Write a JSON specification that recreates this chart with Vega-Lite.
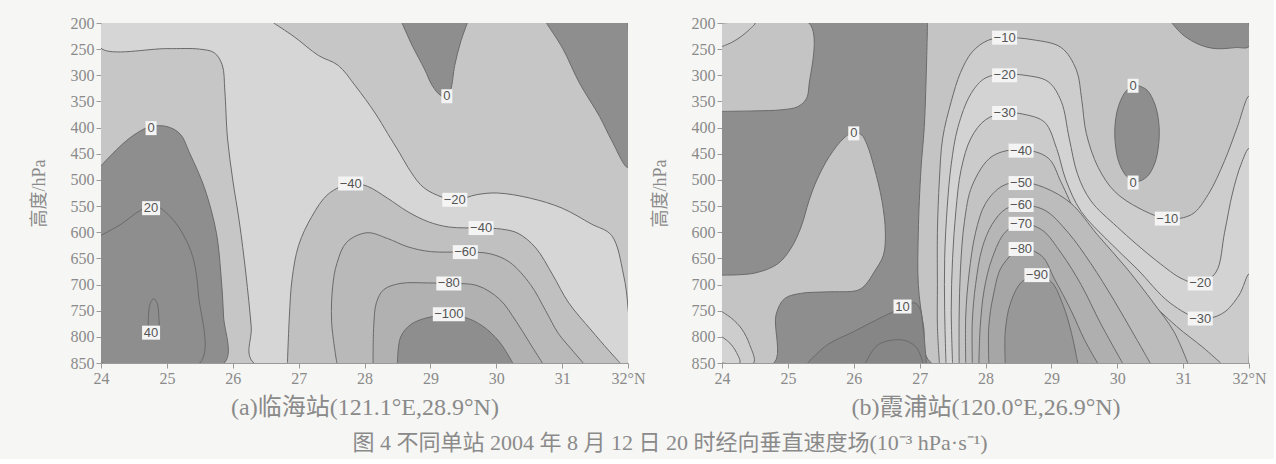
{
"$schema": "https://vega.github.io/schema/vega-lite/v6.json",
"background": "#f6f6f4",
"padding": {"left": 30, "top": 15, "right": 8, "bottom": 5},
"config": {
  "view": {"stroke": null},
  "axis": {"labelFont": "Liberation Serif", "labelFontSize": 16, "labelColor": "#8a8a8a", "tickColor": "#9a9a9a", "domainColor": "#9a9a9a", "tickSize": 5, "labelPadding": 2, "labelOverlap": false, "titleFont": "Liberation Serif, Noto Sans CJK SC", "titleFontSize": 18, "titleFontWeight": "normal", "titleColor": "#8a8a8a", "grid": false}
},
"title": {"text": "图 4 不同单站 2004 年 8 月 12 日 20 时经向垂直速度场(10⁻³ hPa·s⁻¹)", "orient": "bottom", "anchor": "middle", "font": "Liberation Serif, Noto Sans CJK SC", "fontSize": 22, "fontWeight": "normal", "color": "#8a8a8a", "offset": 14, "dx": 22},
"datasets": {
"polyA": [
{"poly":"a00","band":"L0","lat":24,"hPa":200},{"poly":"a00","band":"L0","lat":32,"hPa":200},{"poly":"a00","band":"L0","lat":32,"hPa":850},{"poly":"a00","band":"L0","lat":24,"hPa":850},
{"poly":"a01","band":"L1","lat":24,"hPa":200},{"poly":"a01","band":"L1","lat":24,"hPa":248},{"poly":"a01","band":"L1","lat":25,"hPa":249},{"poly":"a01","band":"L1","lat":25.5,"hPa":250},{"poly":"a01","band":"L1","lat":25.72,"hPa":257},{"poly":"a01","band":"L1","lat":25.84,"hPa":280},{"poly":"a01","band":"L1","lat":25.88,"hPa":330},{"poly":"a01","band":"L1","lat":25.92,"hPa":420},{"poly":"a01","band":"L1","lat":26,"hPa":500},{"poly":"a01","band":"L1","lat":26.1,"hPa":580},{"poly":"a01","band":"L1","lat":26.2,"hPa":680},{"poly":"a01","band":"L1","lat":26.28,"hPa":780},{"poly":"a01","band":"L1","lat":26.32,"hPa":850},{"poly":"a01","band":"L1","lat":32,"hPa":850},{"poly":"a01","band":"L1","lat":32,"hPa":745},{"poly":"a01","band":"L1","lat":31.93,"hPa":680},{"poly":"a01","band":"L1","lat":31.75,"hPa":606},{"poly":"a01","band":"L1","lat":31.44,"hPa":584},{"poly":"a01","band":"L1","lat":31,"hPa":554},{"poly":"a01","band":"L1","lat":30.52,"hPa":535},{"poly":"a01","band":"L1","lat":30.02,"hPa":525},{"poly":"a01","band":"L1","lat":29.71,"hPa":528},{"poly":"a01","band":"L1","lat":29.37,"hPa":538},{"poly":"a01","band":"L1","lat":29.03,"hPa":525},{"poly":"a01","band":"L1","lat":28.85,"hPa":509},{"poly":"a01","band":"L1","lat":28.66,"hPa":476},{"poly":"a01","band":"L1","lat":28.54,"hPa":450},{"poly":"a01","band":"L1","lat":28.35,"hPa":411},{"poly":"a01","band":"L1","lat":28.16,"hPa":372},{"poly":"a01","band":"L1","lat":27.86,"hPa":320},{"poly":"a01","band":"L1","lat":27.6,"hPa":281},{"poly":"a01","band":"L1","lat":27.3,"hPa":262},{"poly":"a01","band":"L1","lat":26.93,"hPa":226},{"poly":"a01","band":"L1","lat":26.62,"hPa":200},
{"poly":"a02","band":"M0","lat":26.83,"hPa":850},{"poly":"a02","band":"M0","lat":26.86,"hPa":760},{"poly":"a02","band":"M0","lat":26.9,"hPa":690},{"poly":"a02","band":"M0","lat":27,"hPa":625},{"poly":"a02","band":"M0","lat":27.2,"hPa":570},{"poly":"a02","band":"M0","lat":27.45,"hPa":527},{"poly":"a02","band":"M0","lat":27.79,"hPa":507},{"poly":"a02","band":"M0","lat":28.04,"hPa":512},{"poly":"a02","band":"M0","lat":28.35,"hPa":535},{"poly":"a02","band":"M0","lat":28.66,"hPa":561},{"poly":"a02","band":"M0","lat":28.97,"hPa":580},{"poly":"a02","band":"M0","lat":29.28,"hPa":590},{"poly":"a02","band":"M0","lat":29.77,"hPa":592},{"poly":"a02","band":"M0","lat":30.08,"hPa":594},{"poly":"a02","band":"M0","lat":30.33,"hPa":602},{"poly":"a02","band":"M0","lat":30.6,"hPa":630},{"poly":"a02","band":"M0","lat":30.85,"hPa":680},{"poly":"a02","band":"M0","lat":31.1,"hPa":735},{"poly":"a02","band":"M0","lat":31.44,"hPa":787},{"poly":"a02","band":"M0","lat":31.7,"hPa":825},{"poly":"a02","band":"M0","lat":31.88,"hPa":850},
{"poly":"a03","band":"M1","lat":27.58,"hPa":850},{"poly":"a03","band":"M1","lat":27.5,"hPa":770},{"poly":"a03","band":"M1","lat":27.52,"hPa":700},{"poly":"a03","band":"M1","lat":27.58,"hPa":660},{"poly":"a03","band":"M1","lat":27.73,"hPa":619},{"poly":"a03","band":"M1","lat":28.04,"hPa":601},{"poly":"a03","band":"M1","lat":28.35,"hPa":612},{"poly":"a03","band":"M1","lat":28.66,"hPa":628},{"poly":"a03","band":"M1","lat":29,"hPa":637},{"poly":"a03","band":"M1","lat":29.53,"hPa":638},{"poly":"a03","band":"M1","lat":29.9,"hPa":641},{"poly":"a03","band":"M1","lat":30.2,"hPa":657},{"poly":"a03","band":"M1","lat":30.52,"hPa":700},{"poly":"a03","band":"M1","lat":30.75,"hPa":750},{"poly":"a03","band":"M1","lat":30.94,"hPa":793},{"poly":"a03","band":"M1","lat":31.15,"hPa":825},{"poly":"a03","band":"M1","lat":31.32,"hPa":850},
{"poly":"a04","band":"M2","lat":28.13,"hPa":850},{"poly":"a04","band":"M2","lat":28.14,"hPa":780},{"poly":"a04","band":"M2","lat":28.18,"hPa":735},{"poly":"a04","band":"M2","lat":28.29,"hPa":710},{"poly":"a04","band":"M2","lat":28.54,"hPa":698},{"poly":"a04","band":"M2","lat":28.97,"hPa":697},{"poly":"a04","band":"M2","lat":29.28,"hPa":698},{"poly":"a04","band":"M2","lat":29.71,"hPa":702},{"poly":"a04","band":"M2","lat":30.05,"hPa":728},{"poly":"a04","band":"M2","lat":30.3,"hPa":770},{"poly":"a04","band":"M2","lat":30.5,"hPa":810},{"poly":"a04","band":"M2","lat":30.7,"hPa":850},
{"poly":"a05","band":"D","lat":28.5,"hPa":850},{"poly":"a05","band":"D","lat":28.55,"hPa":800},{"poly":"a05","band":"D","lat":28.72,"hPa":775},{"poly":"a05","band":"D","lat":29.1,"hPa":760},{"poly":"a05","band":"D","lat":29.5,"hPa":762},{"poly":"a05","band":"D","lat":29.8,"hPa":780},{"poly":"a05","band":"D","lat":30.05,"hPa":810},{"poly":"a05","band":"D","lat":30.25,"hPa":850},
{"poly":"a06","band":"D","lat":24,"hPa":473},{"poly":"a06","band":"D","lat":24.33,"hPa":431},{"poly":"a06","band":"D","lat":24.55,"hPa":410},{"poly":"a06","band":"D","lat":24.75,"hPa":398},{"poly":"a06","band":"D","lat":25,"hPa":398},{"poly":"a06","band":"D","lat":25.2,"hPa":412},{"poly":"a06","band":"D","lat":25.35,"hPa":450},{"poly":"a06","band":"D","lat":25.57,"hPa":515},{"poly":"a06","band":"D","lat":25.75,"hPa":600},{"poly":"a06","band":"D","lat":25.82,"hPa":680},{"poly":"a06","band":"D","lat":25.86,"hPa":760},{"poly":"a06","band":"D","lat":25.87,"hPa":850},{"poly":"a06","band":"D","lat":24,"hPa":850},
{"poly":"a07","band":"D","lat":24,"hPa":606},{"poly":"a07","band":"D","lat":24.3,"hPa":585},{"poly":"a07","band":"D","lat":24.6,"hPa":558},{"poly":"a07","band":"D","lat":24.8,"hPa":548},{"poly":"a07","band":"D","lat":25.05,"hPa":570},{"poly":"a07","band":"D","lat":25.25,"hPa":605},{"poly":"a07","band":"D","lat":25.4,"hPa":650},{"poly":"a07","band":"D","lat":25.48,"hPa":720},{"poly":"a07","band":"D","lat":25.5,"hPa":850},{"poly":"a07","band":"D","lat":24,"hPa":850},
{"poly":"a08","band":"D","lat":24.72,"hPa":800},{"poly":"a08","band":"D","lat":24.72,"hPa":760},{"poly":"a08","band":"D","lat":24.75,"hPa":735},{"poly":"a08","band":"D","lat":24.8,"hPa":727},{"poly":"a08","band":"D","lat":24.85,"hPa":735},{"poly":"a08","band":"D","lat":24.88,"hPa":765},{"poly":"a08","band":"D","lat":24.88,"hPa":800},
{"poly":"a09","band":"D","lat":28.57,"hPa":200},{"poly":"a09","band":"D","lat":28.72,"hPa":242},{"poly":"a09","band":"D","lat":28.91,"hPa":288},{"poly":"a09","band":"D","lat":29.03,"hPa":320},{"poly":"a09","band":"D","lat":29.15,"hPa":338},{"poly":"a09","band":"D","lat":29.25,"hPa":342},{"poly":"a09","band":"D","lat":29.31,"hPa":327},{"poly":"a09","band":"D","lat":29.37,"hPa":281},{"poly":"a09","band":"D","lat":29.46,"hPa":236},{"poly":"a09","band":"D","lat":29.56,"hPa":200},
{"poly":"a10","band":"D","lat":30.76,"hPa":200},{"poly":"a10","band":"D","lat":31.01,"hPa":249},{"poly":"a10","band":"D","lat":31.26,"hPa":314},{"poly":"a10","band":"D","lat":31.57,"hPa":379},{"poly":"a10","band":"D","lat":31.75,"hPa":424},{"poly":"a10","band":"D","lat":32,"hPa":476},{"poly":"a10","band":"D","lat":32,"hPa":200}
],
"polyB": [
{"poly":"b00","band":"D","lat":24,"hPa":200},{"poly":"b00","band":"D","lat":32,"hPa":200},{"poly":"b00","band":"D","lat":32,"hPa":850},{"poly":"b00","band":"D","lat":24,"hPa":850},
{"poly":"b01","band":"b0","lat":27.12,"hPa":200},{"poly":"b01","band":"b0","lat":27.1,"hPa":300},{"poly":"b01","band":"b0","lat":27.07,"hPa":400},{"poly":"b01","band":"b0","lat":27.02,"hPa":480},{"poly":"b01","band":"b0","lat":26.98,"hPa":600},{"poly":"b01","band":"b0","lat":26.98,"hPa":700},{"poly":"b01","band":"b0","lat":27.06,"hPa":780},{"poly":"b01","band":"b0","lat":27.18,"hPa":850},{"poly":"b01","band":"b0","lat":32,"hPa":850},{"poly":"b01","band":"b0","lat":32,"hPa":200},
{"poly":"b02","band":"D","lat":30.83,"hPa":200},{"poly":"b02","band":"D","lat":31,"hPa":223},{"poly":"b02","band":"D","lat":31.26,"hPa":242},{"poly":"b02","band":"D","lat":31.5,"hPa":249},{"poly":"b02","band":"D","lat":31.8,"hPa":247},{"poly":"b02","band":"D","lat":32,"hPa":245},{"poly":"b02","band":"D","lat":32,"hPa":200},
{"poly":"b03","band":"D","lat":30.3,"hPa":319},{"poly":"b03","band":"D","lat":30.45,"hPa":328},{"poly":"b03","band":"D","lat":30.57,"hPa":355},{"poly":"b03","band":"D","lat":30.63,"hPa":390},{"poly":"b03","band":"D","lat":30.63,"hPa":430},{"poly":"b03","band":"D","lat":30.57,"hPa":468},{"poly":"b03","band":"D","lat":30.45,"hPa":494},{"poly":"b03","band":"D","lat":30.3,"hPa":503},{"poly":"b03","band":"D","lat":30.15,"hPa":494},{"poly":"b03","band":"D","lat":30.03,"hPa":468},{"poly":"b03","band":"D","lat":29.97,"hPa":430},{"poly":"b03","band":"D","lat":29.97,"hPa":390},{"poly":"b03","band":"D","lat":30.03,"hPa":355},{"poly":"b03","band":"D","lat":30.15,"hPa":328},{"poly":"b03","band":"D","lat":30.3,"hPa":319},
{"poly":"b04","band":"b0","lat":24,"hPa":200},{"poly":"b04","band":"b0","lat":25.32,"hPa":200},{"poly":"b04","band":"b0","lat":25.32,"hPa":320},{"poly":"b04","band":"b0","lat":25.28,"hPa":345},{"poly":"b04","band":"b0","lat":25.15,"hPa":360},{"poly":"b04","band":"b0","lat":24.9,"hPa":366},{"poly":"b04","band":"b0","lat":24.5,"hPa":368},{"poly":"b04","band":"b0","lat":24,"hPa":369},
{"poly":"b05","band":"b1","lat":24,"hPa":200},{"poly":"b05","band":"b1","lat":24.5,"hPa":200},{"poly":"b05","band":"b1","lat":24.42,"hPa":212},{"poly":"b05","band":"b1","lat":24.3,"hPa":225},{"poly":"b05","band":"b1","lat":24.15,"hPa":237},{"poly":"b05","band":"b1","lat":24,"hPa":245},
{"poly":"b06","band":"b0","lat":24,"hPa":682},{"poly":"b06","band":"b0","lat":24.5,"hPa":678},{"poly":"b06","band":"b0","lat":24.85,"hPa":660},{"poly":"b06","band":"b0","lat":25.05,"hPa":630},{"poly":"b06","band":"b0","lat":25.2,"hPa":590},{"poly":"b06","band":"b0","lat":25.32,"hPa":540},{"poly":"b06","band":"b0","lat":25.44,"hPa":500},{"poly":"b06","band":"b0","lat":25.63,"hPa":455},{"poly":"b06","band":"b0","lat":25.85,"hPa":420},{"poly":"b06","band":"b0","lat":26,"hPa":408},{"poly":"b06","band":"b0","lat":26.12,"hPa":414},{"poly":"b06","band":"b0","lat":26.2,"hPa":432},{"poly":"b06","band":"b0","lat":26.31,"hPa":476},{"poly":"b06","band":"b0","lat":26.43,"hPa":541},{"poly":"b06","band":"b0","lat":26.48,"hPa":600},{"poly":"b06","band":"b0","lat":26.45,"hPa":644},{"poly":"b06","band":"b0","lat":26.31,"hPa":676},{"poly":"b06","band":"b0","lat":26.18,"hPa":700},{"poly":"b06","band":"b0","lat":26.06,"hPa":711},{"poly":"b06","band":"b0","lat":25.6,"hPa":714},{"poly":"b06","band":"b0","lat":25.19,"hPa":717},{"poly":"b06","band":"b0","lat":24.95,"hPa":727},{"poly":"b06","band":"b0","lat":24.82,"hPa":758},{"poly":"b06","band":"b0","lat":24.79,"hPa":850},{"poly":"b06","band":"b0","lat":24,"hPa":850},
{"poly":"b07","band":"b1","lat":24,"hPa":752},{"poly":"b07","band":"b1","lat":24.15,"hPa":765},{"poly":"b07","band":"b1","lat":24.3,"hPa":785},{"poly":"b07","band":"b1","lat":24.42,"hPa":815},{"poly":"b07","band":"b1","lat":24.48,"hPa":850},{"poly":"b07","band":"b1","lat":24,"hPa":850},
{"poly":"b08","band":"b2","lat":24,"hPa":800},{"poly":"b08","band":"b2","lat":24.12,"hPa":812},{"poly":"b08","band":"b2","lat":24.22,"hPa":830},{"poly":"b08","band":"b2","lat":24.27,"hPa":850},{"poly":"b08","band":"b2","lat":24,"hPa":850},
{"poly":"b09","band":"D2","lat":25.3,"hPa":850},{"poly":"b09","band":"D2","lat":25.6,"hPa":815},{"poly":"b09","band":"D2","lat":26,"hPa":790},{"poly":"b09","band":"D2","lat":26.4,"hPa":764},{"poly":"b09","band":"D2","lat":26.74,"hPa":744},{"poly":"b09","band":"D2","lat":26.92,"hPa":735},{"poly":"b09","band":"D2","lat":27.0,"hPa":745},{"poly":"b09","band":"D2","lat":27.06,"hPa":790},{"poly":"b09","band":"D2","lat":27.1,"hPa":850},
{"poly":"b10","band":"D2","lat":26.18,"hPa":850},{"poly":"b10","band":"D2","lat":26.37,"hPa":815},{"poly":"b10","band":"D2","lat":26.74,"hPa":806},{"poly":"b10","band":"D2","lat":26.95,"hPa":820},{"poly":"b10","band":"D2","lat":27.05,"hPa":850},
{"poly":"b11","band":"b1","lat":27.3,"hPa":850},{"poly":"b11","band":"b1","lat":27.27,"hPa":780},{"poly":"b11","band":"b1","lat":27.27,"hPa":700},{"poly":"b11","band":"b1","lat":27.27,"hPa":600},{"poly":"b11","band":"b1","lat":27.3,"hPa":500},{"poly":"b11","band":"b1","lat":27.35,"hPa":420},{"poly":"b11","band":"b1","lat":27.48,"hPa":350},{"poly":"b11","band":"b1","lat":27.62,"hPa":295},{"poly":"b11","band":"b1","lat":27.8,"hPa":255},{"poly":"b11","band":"b1","lat":28.04,"hPa":233},{"poly":"b11","band":"b1","lat":28.29,"hPa":228},{"poly":"b11","band":"b1","lat":28.72,"hPa":232},{"poly":"b11","band":"b1","lat":29.15,"hPa":247},{"poly":"b11","band":"b1","lat":29.38,"hPa":290},{"poly":"b11","band":"b1","lat":29.46,"hPa":346},{"poly":"b11","band":"b1","lat":29.53,"hPa":411},{"poly":"b11","band":"b1","lat":29.71,"hPa":476},{"poly":"b11","band":"b1","lat":29.96,"hPa":522},{"poly":"b11","band":"b1","lat":30.33,"hPa":554},{"poly":"b11","band":"b1","lat":30.76,"hPa":574},{"poly":"b11","band":"b1","lat":31.13,"hPa":566},{"poly":"b11","band":"b1","lat":31.38,"hPa":528},{"poly":"b11","band":"b1","lat":31.63,"hPa":463},{"poly":"b11","band":"b1","lat":31.82,"hPa":400},{"poly":"b11","band":"b1","lat":32,"hPa":340},{"poly":"b11","band":"b1","lat":32,"hPa":850},
{"poly":"b12","band":"b2","lat":27.4,"hPa":850},{"poly":"b12","band":"b2","lat":27.38,"hPa":750},{"poly":"b12","band":"b2","lat":27.38,"hPa":650},{"poly":"b12","band":"b2","lat":27.42,"hPa":550},{"poly":"b12","band":"b2","lat":27.48,"hPa":470},{"poly":"b12","band":"b2","lat":27.58,"hPa":400},{"poly":"b12","band":"b2","lat":27.78,"hPa":335},{"poly":"b12","band":"b2","lat":28,"hPa":305},{"poly":"b12","band":"b2","lat":28.29,"hPa":298},{"poly":"b12","band":"b2","lat":28.6,"hPa":300},{"poly":"b12","band":"b2","lat":28.95,"hPa":312},{"poly":"b12","band":"b2","lat":29.15,"hPa":350},{"poly":"b12","band":"b2","lat":29.27,"hPa":420},{"poly":"b12","band":"b2","lat":29.4,"hPa":490},{"poly":"b12","band":"b2","lat":29.6,"hPa":540},{"poly":"b12","band":"b2","lat":30,"hPa":590},{"poly":"b12","band":"b2","lat":30.6,"hPa":655},{"poly":"b12","band":"b2","lat":31,"hPa":690},{"poly":"b12","band":"b2","lat":31.26,"hPa":698},{"poly":"b12","band":"b2","lat":31.5,"hPa":676},{"poly":"b12","band":"b2","lat":31.63,"hPa":600},{"poly":"b12","band":"b2","lat":31.75,"hPa":525},{"poly":"b12","band":"b2","lat":31.88,"hPa":470},{"poly":"b12","band":"b2","lat":32,"hPa":440},{"poly":"b12","band":"b2","lat":32,"hPa":850},
{"poly":"b13","band":"b3","lat":27.5,"hPa":850},{"poly":"b13","band":"b3","lat":27.48,"hPa":750},{"poly":"b13","band":"b3","lat":27.5,"hPa":650},{"poly":"b13","band":"b3","lat":27.55,"hPa":560},{"poly":"b13","band":"b3","lat":27.63,"hPa":480},{"poly":"b13","band":"b3","lat":27.78,"hPa":420},{"poly":"b13","band":"b3","lat":28,"hPa":385},{"poly":"b13","band":"b3","lat":28.29,"hPa":372},{"poly":"b13","band":"b3","lat":28.6,"hPa":375},{"poly":"b13","band":"b3","lat":28.9,"hPa":390},{"poly":"b13","band":"b3","lat":29.08,"hPa":440},{"poly":"b13","band":"b3","lat":29.22,"hPa":500},{"poly":"b13","band":"b3","lat":29.45,"hPa":560},{"poly":"b13","band":"b3","lat":29.85,"hPa":615},{"poly":"b13","band":"b3","lat":30.3,"hPa":670},{"poly":"b13","band":"b3","lat":30.8,"hPa":735},{"poly":"b13","band":"b3","lat":31.26,"hPa":765},{"poly":"b13","band":"b3","lat":31.6,"hPa":755},{"poly":"b13","band":"b3","lat":31.85,"hPa":720},{"poly":"b13","band":"b3","lat":32,"hPa":680},{"poly":"b13","band":"b3","lat":32,"hPa":850},
{"poly":"b14","band":"b4","lat":27.6,"hPa":850},{"poly":"b14","band":"b4","lat":27.6,"hPa":760},{"poly":"b14","band":"b4","lat":27.62,"hPa":670},{"poly":"b14","band":"b4","lat":27.68,"hPa":580},{"poly":"b14","band":"b4","lat":27.8,"hPa":510},{"poly":"b14","band":"b4","lat":28.1,"hPa":455},{"poly":"b14","band":"b4","lat":28.54,"hPa":442},{"poly":"b14","band":"b4","lat":28.95,"hPa":458},{"poly":"b14","band":"b4","lat":29.15,"hPa":505},{"poly":"b14","band":"b4","lat":29.4,"hPa":570},{"poly":"b14","band":"b4","lat":29.8,"hPa":640},{"poly":"b14","band":"b4","lat":30.4,"hPa":720},{"poly":"b14","band":"b4","lat":30.9,"hPa":780},{"poly":"b14","band":"b4","lat":31.3,"hPa":820},{"poly":"b14","band":"b4","lat":31.57,"hPa":850},
{"poly":"b15","band":"b5","lat":27.7,"hPa":850},{"poly":"b15","band":"b5","lat":27.7,"hPa":760},{"poly":"b15","band":"b5","lat":27.75,"hPa":680},{"poly":"b15","band":"b5","lat":27.85,"hPa":600},{"poly":"b15","band":"b5","lat":28,"hPa":545},{"poly":"b15","band":"b5","lat":28.25,"hPa":512},{"poly":"b15","band":"b5","lat":28.54,"hPa":504},{"poly":"b15","band":"b5","lat":28.9,"hPa":515},{"poly":"b15","band":"b5","lat":29.3,"hPa":545},{"poly":"b15","band":"b5","lat":29.7,"hPa":605},{"poly":"b15","band":"b5","lat":30.15,"hPa":670},{"poly":"b15","band":"b5","lat":30.55,"hPa":735},{"poly":"b15","band":"b5","lat":30.86,"hPa":790},{"poly":"b15","band":"b5","lat":31.07,"hPa":850},
{"poly":"b16","band":"b6","lat":27.8,"hPa":850},{"poly":"b16","band":"b6","lat":27.8,"hPa":770},{"poly":"b16","band":"b6","lat":27.85,"hPa":700},{"poly":"b16","band":"b6","lat":27.95,"hPa":630},{"poly":"b16","band":"b6","lat":28.1,"hPa":585},{"poly":"b16","band":"b6","lat":28.3,"hPa":556},{"poly":"b16","band":"b6","lat":28.54,"hPa":548},{"poly":"b16","band":"b6","lat":28.9,"hPa":558},{"poly":"b16","band":"b6","lat":29.25,"hPa":600},{"poly":"b16","band":"b6","lat":29.6,"hPa":660},{"poly":"b16","band":"b6","lat":29.95,"hPa":730},{"poly":"b16","band":"b6","lat":30.25,"hPa":795},{"poly":"b16","band":"b6","lat":30.5,"hPa":850},
{"poly":"b17","band":"b7","lat":27.9,"hPa":850},{"poly":"b17","band":"b7","lat":27.92,"hPa":780},{"poly":"b17","band":"b7","lat":27.98,"hPa":710},{"poly":"b17","band":"b7","lat":28.1,"hPa":650},{"poly":"b17","band":"b7","lat":28.3,"hPa":600},{"poly":"b17","band":"b7","lat":28.54,"hPa":584},{"poly":"b17","band":"b7","lat":28.85,"hPa":595},{"poly":"b17","band":"b7","lat":29.15,"hPa":640},{"poly":"b17","band":"b7","lat":29.45,"hPa":700},{"poly":"b17","band":"b7","lat":29.75,"hPa":775},{"poly":"b17","band":"b7","lat":30.08,"hPa":850},
{"poly":"b18","band":"b8","lat":28.05,"hPa":850},{"poly":"b18","band":"b8","lat":28.05,"hPa":780},{"poly":"b18","band":"b8","lat":28.12,"hPa":720},{"poly":"b18","band":"b8","lat":28.25,"hPa":665},{"poly":"b18","band":"b8","lat":28.54,"hPa":632},{"poly":"b18","band":"b8","lat":28.85,"hPa":645},{"poly":"b18","band":"b8","lat":29.05,"hPa":690},{"poly":"b18","band":"b8","lat":29.3,"hPa":750},{"poly":"b18","band":"b8","lat":29.5,"hPa":805},{"poly":"b18","band":"b8","lat":29.7,"hPa":850},
{"poly":"b19","band":"b9","lat":28.3,"hPa":850},{"poly":"b19","band":"b9","lat":28.3,"hPa":790},{"poly":"b19","band":"b9","lat":28.38,"hPa":735},{"poly":"b19","band":"b9","lat":28.55,"hPa":695},{"poly":"b19","band":"b9","lat":28.78,"hPa":682},{"poly":"b19","band":"b9","lat":29,"hPa":695},{"poly":"b19","band":"b9","lat":29.18,"hPa":740},{"poly":"b19","band":"b9","lat":29.3,"hPa":790},{"poly":"b19","band":"b9","lat":29.4,"hPa":850}
],
"labA": [
{"t":"0","lat":24.76,"hPa":401},{"t":"20","lat":24.76,"hPa":554},{"t":"40","lat":24.76,"hPa":792},{"t":"0","lat":29.25,"hPa":340},{"t":"−40","lat":27.79,"hPa":507},{"t":"−20","lat":29.37,"hPa":538},{"t":"−40","lat":29.77,"hPa":592},{"t":"−60","lat":29.53,"hPa":638},{"t":"−80","lat":29.28,"hPa":698},{"t":"−100","lat":29.28,"hPa":757}
],
"labB": [
{"t":"−10","lat":28.29,"hPa":228},{"t":"−20","lat":28.29,"hPa":300},{"t":"−30","lat":28.29,"hPa":372},{"t":"−40","lat":28.54,"hPa":444},{"t":"−50","lat":28.54,"hPa":506},{"t":"−60","lat":28.54,"hPa":548},{"t":"−70","lat":28.54,"hPa":584},{"t":"−80","lat":28.54,"hPa":632},{"t":"−90","lat":28.78,"hPa":682},{"t":"10","lat":26.74,"hPa":742},{"t":"0","lat":26.0,"hPa":411},{"t":"0","lat":30.24,"hPa":320},{"t":"0","lat":30.24,"hPa":505},{"t":"−10","lat":30.76,"hPa":574},{"t":"−20","lat":31.26,"hPa":698},{"t":"−30","lat":31.26,"hPa":765}
]
},
"spacing": 6,
"hconcat": [
{
 "width": 527, "height": 340,
 "layer": [
  {"data": {"name": "polyA"},
   "mark": {"type": "line", "interpolate": "catmull-rom", "clip": true, "stroke": "#6a6a6a", "strokeWidth": 1},
   "encoding": {
    "x": {"field": "lat", "type": "quantitative", "scale": {"domain": [24, 32], "nice": false, "zero": false},
          "axis": {"values": [24,25,26,27,28,29,30,31,32], "format": "d", "labelFlush": false, "labelOverlap": false, "labelExpr": "datum.value == 32 ? '32°N' : datum.label", "title": "(a)临海站(121.1°E,28.9°N)", "titlePadding": 9, "titleFontSize": 24}},
    "y": {"field": "hPa", "type": "quantitative", "scale": {"domain": [200, 850], "reverse": true, "nice": false, "zero": false},
          "axis": {"values": [200,250,300,350,400,450,500,550,600,650,700,750,800,850], "tickCount": 14, "format": "d", "labelOverlap": false, "labelSeparation": 0, "title": "高度/hPa", "titlePadding": 22, "labelFlush": false}},
    "detail": {"field": "poly", "type": "nominal"},
    "fill": {"field": "band", "type": "nominal", "legend": null,
             "scale": {"domain": ["D","D2","L0","L1","M0","M1","M2","b0","b1","b2","b3","b4","b5","b6","b7","b8","b9"],
                       "range": ["#8e8e8e","#868686","#c6c6c6","#d6d6d6","#c0c0c0","#b9b9b9","#b1b1b1","#c4c4c4","#cdcdcd","#d3d3d3","#cbcbcb","#c3c3c3","#bcbcbc","#b6b6b6","#afafaf","#a6a6a6","#989898"]}},
    "order": {"value": null}
   }},
  {"data": {"name": "labA"}, "transform": [{"filter": "length(datum.t) == 1"}],
   "mark": {"type": "rect", "width": 11, "height": 14, "fill": "#f4f4f4"},
   "encoding": {"x": {"field": "lat", "type": "quantitative"}, "y": {"field": "hPa", "type": "quantitative"}}},
  {"data": {"name": "labA"}, "transform": [{"filter": "length(datum.t) == 2"}],
   "mark": {"type": "rect", "width": 18, "height": 14, "fill": "#f4f4f4"},
   "encoding": {"x": {"field": "lat", "type": "quantitative"}, "y": {"field": "hPa", "type": "quantitative"}}},
  {"data": {"name": "labA"}, "transform": [{"filter": "length(datum.t) == 3"}],
   "mark": {"type": "rect", "width": 25, "height": 14, "fill": "#f4f4f4"},
   "encoding": {"x": {"field": "lat", "type": "quantitative"}, "y": {"field": "hPa", "type": "quantitative"}}},
  {"data": {"name": "labA"}, "transform": [{"filter": "length(datum.t) == 4"}],
   "mark": {"type": "rect", "width": 32, "height": 14, "fill": "#f4f4f4"},
   "encoding": {"x": {"field": "lat", "type": "quantitative"}, "y": {"field": "hPa", "type": "quantitative"}}},
  {"data": {"name": "labA"},
   "mark": {"type": "text", "font": "Liberation Sans", "fontSize": 13, "fill": "#555555", "baseline": "middle", "align": "center"},
   "encoding": {"x": {"field": "lat", "type": "quantitative"}, "y": {"field": "hPa", "type": "quantitative"}, "text": {"field": "t"}}}
 ]
},
{
 "width": 527, "height": 340,
 "layer": [
  {"data": {"name": "polyB"},
   "mark": {"type": "line", "interpolate": "catmull-rom", "clip": true, "stroke": "#6a6a6a", "strokeWidth": 1},
   "encoding": {
    "x": {"field": "lat", "type": "quantitative", "scale": {"domain": [24, 32], "nice": false, "zero": false},
          "axis": {"values": [24,25,26,27,28,29,30,31,32], "format": "d", "labelFlush": false, "labelOverlap": false, "labelExpr": "datum.value == 32 ? '32°N' : datum.label", "title": "(b)霞浦站(120.0°E,26.9°N)", "titlePadding": 9, "titleFontSize": 24}},
    "y": {"field": "hPa", "type": "quantitative", "scale": {"domain": [200, 850], "reverse": true, "nice": false, "zero": false},
          "axis": {"values": [200,250,300,350,400,450,500,550,600,650,700,750,800,850], "tickCount": 14, "format": "d", "labelOverlap": false, "labelSeparation": 0, "title": "高度/hPa", "titlePadding": 22, "labelFlush": false}},
    "detail": {"field": "poly", "type": "nominal"},
    "fill": {"field": "band", "type": "nominal", "legend": null,
             "scale": {"domain": ["D","D2","L0","L1","M0","M1","M2","b0","b1","b2","b3","b4","b5","b6","b7","b8","b9"],
                       "range": ["#8e8e8e","#868686","#c6c6c6","#d6d6d6","#c0c0c0","#b9b9b9","#b1b1b1","#c4c4c4","#cdcdcd","#d3d3d3","#cbcbcb","#c3c3c3","#bcbcbc","#b6b6b6","#afafaf","#a6a6a6","#989898"]}},
    "order": {"value": null}
   }},
  {"data": {"name": "labB"}, "transform": [{"filter": "length(datum.t) == 1"}],
   "mark": {"type": "rect", "width": 11, "height": 14, "fill": "#f4f4f4"},
   "encoding": {"x": {"field": "lat", "type": "quantitative"}, "y": {"field": "hPa", "type": "quantitative"}}},
  {"data": {"name": "labB"}, "transform": [{"filter": "length(datum.t) == 2"}],
   "mark": {"type": "rect", "width": 18, "height": 14, "fill": "#f4f4f4"},
   "encoding": {"x": {"field": "lat", "type": "quantitative"}, "y": {"field": "hPa", "type": "quantitative"}}},
  {"data": {"name": "labB"}, "transform": [{"filter": "length(datum.t) == 3"}],
   "mark": {"type": "rect", "width": 25, "height": 14, "fill": "#f4f4f4"},
   "encoding": {"x": {"field": "lat", "type": "quantitative"}, "y": {"field": "hPa", "type": "quantitative"}}},
  {"data": {"name": "labB"},
   "mark": {"type": "text", "font": "Liberation Sans", "fontSize": 13, "fill": "#555555", "baseline": "middle", "align": "center"},
   "encoding": {"x": {"field": "lat", "type": "quantitative"}, "y": {"field": "hPa", "type": "quantitative"}, "text": {"field": "t"}}}
 ]
}
]
}
